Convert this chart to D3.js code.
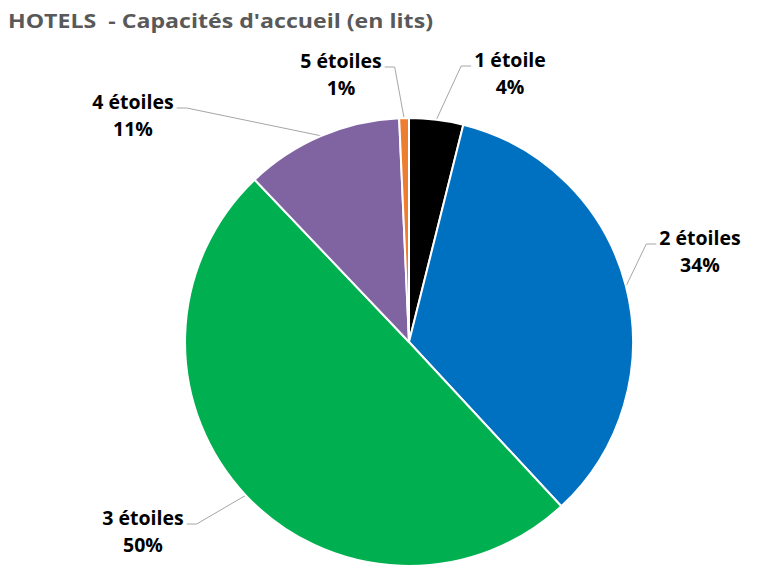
<!DOCTYPE html>
<html>
<head>
<meta charset="utf-8">
<script src="https://cdn.jsdelivr.net/npm/d3@7"></script>
<style>
  html, body { margin: 0; padding: 0; background: #ffffff; }
  svg { display: block; }
</style>
</head>
<body>
<svg id="chart" width="770" height="584"></svg>
<script>
// ---- Data ----
const categories = ["1 étoile", "2 étoiles", "3 étoiles", "4 étoiles", "5 étoiles"];
const values = [3.9, 34.2, 49.8, 11.4, 0.7];
const colors = ["#000000", "#0070C0", "#00B050", "#8064A2", "#ED7D31"];
const title = "HOTELS  - Capacités d'accueil (en lits)";

// ---- Layout (label anchor: centre x, first baseline y, side of leader) ----
const labelLayout = [
  { x: 510, y: 67, side: "left" },
  { x: 700, y: 245, side: "left" },
  { x: 143, y: 525, side: "right" },
  { x: 133, y: 109, side: "right" },
  { x: 341, y: 68, side: "right" }
];

const svg = d3.select("#chart");
const cx = 409, cy = 342, R = 224;
const font = "'Open Sans', 'Liberation Sans', sans-serif";

svg.append("text")
  .attr("x", 8).attr("y", 28)
  .attr("font-family", font)
  .attr("font-weight", "bold")
  .attr("font-size", 20)
  .attr("fill", "#595959")
  .attr("textLength", 425)
  .attr("lengthAdjust", "spacingAndGlyphs")
  .style("white-space", "pre")
  .text(title);

const total = d3.sum(values);
const data = categories.map((c, i) => ({ cat: c, value: values[i], color: colors[i], layout: labelLayout[i] }));

const pie = d3.pie().value(d => d.value).sort(null).startAngle(0).endAngle(2 * Math.PI);
const arcs = pie(data);
const arc = d3.arc().innerRadius(0).outerRadius(R);

const g = svg.append("g").attr("transform", `translate(${cx},${cy})`);
g.selectAll("path.slice").data(arcs).join("path")
  .attr("class", "slice")
  .attr("d", arc)
  .attr("fill", d => d.data.color)
  .attr("stroke", "#ffffff")
  .attr("stroke-width", 2)
  .attr("stroke-linejoin", "round");

// Labels and leader lines
arcs.forEach(a => {
  const L = a.data.layout;
  const t = svg.append("text")
    .attr("font-family", font)
    .attr("font-weight", "bold")
    .attr("font-size", 19.5)
    .attr("fill", "#000000")
    .attr("text-anchor", "middle");
  const t1 = t.append("tspan").attr("x", L.x).attr("y", L.y).text(a.data.cat);
  t.append("tspan").attr("x", L.x).attr("y", L.y + 27)
    .text(Math.round(a.data.value / total * 100) + "%");
  const w = t1.node().getComputedTextLength();
  const mid = (a.startAngle + a.endAngle) / 2;
  const px = cx + R * Math.sin(mid), py = cy - R * Math.cos(mid);
  const ly = L.y - 1;
  let x0, x1;
  if (L.side === "right") { x0 = L.x + w / 2 + 3; x1 = x0 + 10; }
  else { x0 = L.x - w / 2 - 3; x1 = x0 - 10; }
  svg.insert("polyline", "text")
    .attr("points", `${x0},${ly} ${x1},${ly} ${px},${py}`)
    .attr("fill", "none")
    .attr("stroke", "#A6A6A6")
    .attr("stroke-width", 1);
});
</script>
</body>
</html>
